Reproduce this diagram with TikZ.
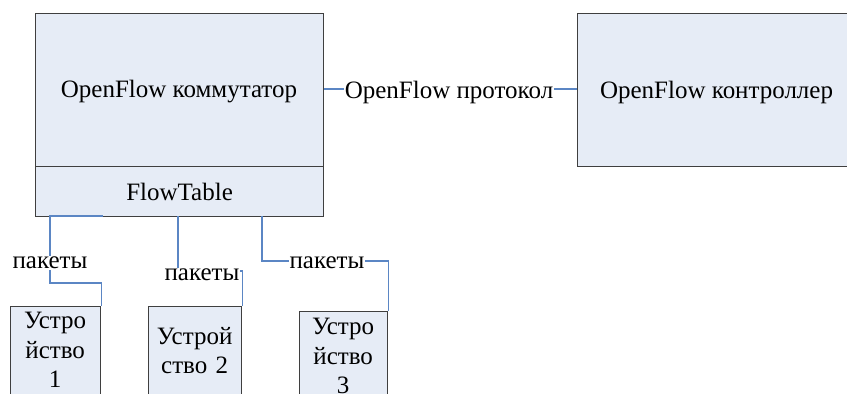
\documentclass[tikz,border=0pt]{standalone}
\usepackage{fontspec}
\setmainfont{Liberation Serif}
\definecolor{boxfill}{HTML}{E6ECF6}
\definecolor{boxline}{HTML}{3F3F3F}
\definecolor{wire}{HTML}{5B86C4}
\tikzset{
  box/.style={draw=boxline,fill=boxfill,line width=1.1pt,inner sep=0pt,align=center,anchor=north west,font=\fontsize{25pt}{29.5pt}\selectfont},
  devtext/.style={align=center,inner sep=0pt,anchor=north west,font=\fontsize{25pt}{29.5pt}\selectfont},
  wirel/.style={draw=wire,line width=1.1pt},
  lab/.style={fill=white,inner sep=1pt,font=\fontsize{25pt}{29pt}\selectfont}
}
\begin{document}
\begin{tikzpicture}[x=1pt,y=-1pt]
\useasboundingbox (0,0) rectangle (847,394);
\clip (0,0) rectangle (847,394);
\node[box,minimum width=288pt,minimum height=153pt] (sw) at (35,13) {};
\node[box,minimum width=288pt,minimum height=50pt] (ft) at (35,166) {FlowTable};
\node[font=\fontsize{25pt}{29pt}\selectfont] (swl) at (179,92) {OpenFlow коммутатор};
\node[box,minimum width=278pt,minimum height=153pt,text depth=-2pt] (ctl) at (577,13) {OpenFlow контроллер};
\node[box,minimum width=90pt,minimum height=100pt] (d1) at (10,306) {};
\node[box,minimum width=93pt,minimum height=100pt] (d2) at (148,306) {};
\node[box,minimum width=88pt,minimum height=100pt] (d3) at (299,311) {};
\node[devtext,text width=90pt] (t1) at (10,312) {Устро\\йство\\1};
\node[devtext,text width=93pt] (t2) at (148,327) {Устрой\\ство 2};
\node[devtext,text width=88pt] (t3) at (299,318) {Устро\\йство\\3};
\coordinate (a1) at (103,216);
\coordinate (c1) at (50,216);
\coordinate (c2) at (50,283);
\draw[wirel] (a1) -- (c1) -- (c2) -| (d1.north east);
\coordinate (a2) at (178,216);
\coordinate (b2) at (178,271);
\draw[wirel] (a2) -- (b2) -| (d2.north east);
\coordinate (a3) at (262,216);
\coordinate (b3) at (262,261);
\draw[wirel] (a3) -- (b3) -| (d3.north east);
\draw[wirel] (sw.east |- 0,89) -- (ctl.west |- 0,89);
\node[lab] (p1) at (50,263) {пакеты};
\node[lab] (p2) at (202,275) {пакеты};
\node[lab] (p3) at (327,263) {пакеты};
\node[lab] (proto) at (449,92) {OpenFlow протокол};
\end{tikzpicture}
\end{document}
